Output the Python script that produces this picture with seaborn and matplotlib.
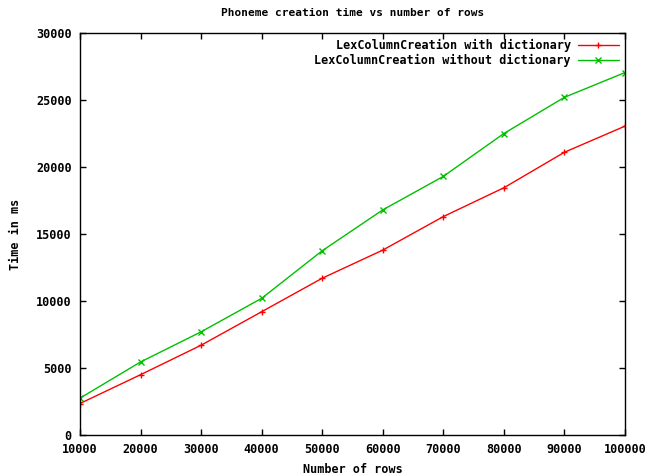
import pandas as pd
import numpy as np
from matplotlib import pyplot as plt
import seaborn as sns

# Values
rows = [10000, 20000, 30000, 40000, 50000, 60000, 70000, 80000, 90000, 100000]
with_dict = [2350, 4500, 6700, 9200, 11700, 13800, 16300, 18450, 21100, 23050]
without_dict = [2750, 5450, 7700, 10200, 13750, 16800, 19300, 22500, 25200, 27050]

labels = ["LexColumnCreation with dictionary", "LexColumnCreation without dictionary"]
colors = ["#ff0000", "#00c000"]

df = pd.DataFrame({
    "rows": rows * 2,
    "time": with_dict + without_dict,
    "series": [labels[0]] * len(rows) + [labels[1]] * len(rows),
})

sns.set_theme(style="ticks", rc={"text.color": "black", "axes.labelcolor": "black",
                                 "xtick.color": "black", "ytick.color": "black"})
plt.rcParams["font.family"] = ["DejaVu Sans Mono"]
plt.rcParams["font.weight"] = "bold"

fig = plt.figure(figsize=(6.47, 4.76), dpi=100)
ax = fig.add_axes([80 / 647, 41 / 476, 545 / 647, 402 / 476])

sns.lineplot(data=df, x="rows", y="time", hue="series", style="series",
             palette=colors, markers=["+", "x"], dashes=False,
             markersize=5, markeredgewidth=1, linewidth=1, ax=ax)
# gnuplot-style markers: edge in line colour
for line in ax.lines:
    line.set_markeredgecolor(line.get_color())

ax.set_xlim(10000, 100000)
ax.set_ylim(0, 30000)
ax.set_xticks(np.arange(10000, 100001, 10000))
ax.set_yticks(np.arange(0, 30001, 5000))
ax.tick_params(direction="in", top=True, right=True, labelsize=8.5, length=4, width=1, pad=6)
for lab in ax.get_xticklabels() + ax.get_yticklabels():
    lab.set_fontweight("bold")
for s in ax.spines.values():
    s.set_linewidth(1)
    s.set_color("black")

ax.set_title("Phoneme creation time vs number of rows", fontsize=8, fontweight="bold", pad=12)
ax.set_xlabel("Number of rows", fontsize=8.5, fontweight="bold", labelpad=5)
ax.set_ylabel("Time in ms", fontsize=8.5, fontweight="bold", labelpad=10)

leg = ax.legend(loc="upper right", frameon=False, fontsize=8.5, markerfirst=False,
                handlelength=3.5, handletextpad=0.6, labelspacing=0.2, borderaxespad=0.1)
for t in leg.get_texts():
    t.set_fontweight("bold")
for h in leg.legend_handles:
    h.set_markeredgecolor(h.get_color())

fig.savefig("out.png", dpi=100)
